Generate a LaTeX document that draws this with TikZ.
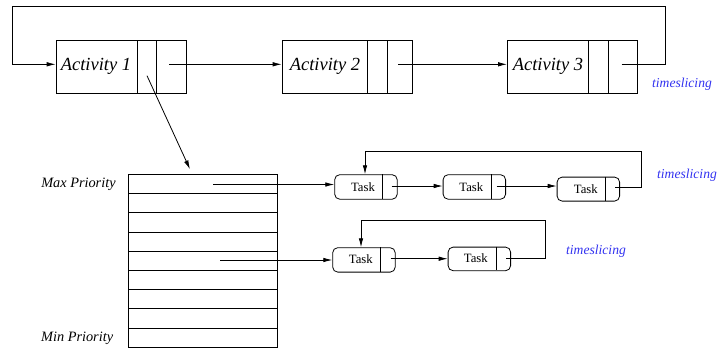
\documentclass[tikz,border=0pt]{standalone}
\usepackage{fontspec}
\setmainfont{Liberation Serif}
\usetikzlibrary{arrows.meta}
\definecolor{tsblue}{RGB}{50,50,240}
\begin{document}
\begin{tikzpicture}[x=1pt,y=-1pt,line width=0.8pt,
  >={Latex[length=9pt,width=4.5pt]},
  actbox/.style={draw,inner sep=0pt,minimum width=130pt,minimum height=52.7pt,anchor=north west},
  acttext/.style={font=\fontsize{18.5}{20}\selectfont\itshape,inner sep=0pt},
  taskbox/.style={draw,rounded corners=5pt,inner sep=0pt,minimum width=62.5pt,minimum height=24.5pt,anchor=north west},
  tasktext/.style={font=\fontsize{12.7}{14}\selectfont,inner sep=0pt},
  prio/.style={font=\fontsize{14.3}{16}\selectfont\itshape,inner sep=0pt,anchor=east},
  tslabel/.style={font=\fontsize{13.6}{15}\selectfont\itshape,text=tsblue,inner sep=0pt}]
\useasboundingbox (0,0) rectangle (719,349);

% activities
\node[actbox] (a1) at (55.7,40) {};
\node[actbox] (a2) at (281.7,40) {};
\node[actbox,minimum width=129.7pt] (a3) at (507,40) {};
\draw (137.3,40) -- (137.3,92.7) (156.7,40) -- (156.7,92.7);
\draw (367.3,40) -- (367.3,92.7) (387.3,40) -- (387.3,92.7);
\draw (588.7,40) -- (588.7,92.7) (608,40) -- (608,92.7);
\node[acttext] (a1t) at (96,66) {Activity 1};
\node[acttext] (a2t) at (325,66) {Activity 2};
\node[acttext] (a3t) at (548,66) {Activity 3};
\node[tslabel] (ts1) at (682,84) {timeslicing};

\coordinate (a1out) at (169.3,64.3);
\coordinate (a1in) at (55.7,64.3);
\coordinate (a2out) at (398.3,64.3);
\coordinate (a2in) at (281.7,64.3);
\coordinate (a3out) at (621.7,64.3);
\coordinate (a3in) at (507,64.3);
\coordinate (a1q) at (147,75.7);

\draw[->] (a1out) -- (a2in);
\draw[->] (a2out) -- (a3in);
\draw[->] (a3out) -- (665.3,64.3) -- (665.3,6.7) -- (12.7,6.7) -- (12.7,64.3) -- (a1in);

% priority table
\node[draw,inner sep=0pt,minimum width=148.4pt,minimum height=173pt,anchor=north west] (tab) at (128.3,174.3) {};
\foreach \i in {1,...,8} {
  \draw (128.3,174.3+19.222*\i) -- (276.7,174.3+19.222*\i);
}
\coordinate (tabtop) at (190,169.3);
\draw[->] (a1q) -- (tabtop);
\node[prio] (maxp) at (116,184.5) {Max Priority};
\node[prio] (minp) at (113.5,338.5) {Min Priority};

% tasks row 1
\node[taskbox] (t1) at (334.3,174.3) {};
\node[taskbox] (t2) at (442.7,174.3) {};
\node[taskbox,minimum height=24pt] (t3) at (556.7,176.7) {};
\draw (382.3,174.3) -- (382.3,199);
\draw (491,174.3) -- (491,199);
\draw (605,176.7) -- (605,200.7);
\node[tasktext] (t1t) at (363,187) {Task};
\node[tasktext] (t2t) at (471.3,187) {Task};
\node[tasktext] (t3t) at (585.8,189) {Task};
\node[tslabel] (ts2) at (687,175) {timeslicing};

\coordinate (r1) at (213.3,184.5);
\coordinate (t1in) at (334.3,184.5);
\coordinate (t1out) at (391.7,186);
\coordinate (t2in) at (442.7,186);
\coordinate (t2out) at (496.7,186);
\coordinate (t3in) at (556.7,186);
\coordinate (t3out) at (615,187.3);
\draw[->] (r1) -- (t1in);
\draw[->] (t1out) -- (t2in);
\draw[->] (t2out) -- (t3in);
\draw[->] (t3out) -- (641.7,187.3) -- (641.7,151.3) -- (365,151.3) -- (t1.north -| 365,0);

% tasks row 2
\node[taskbox,minimum height=24.4pt] (t4) at (332.3,247.3) {};
\node[taskbox,minimum height=23.6pt] (t5) at (447.7,246.7) {};
\draw (380.3,247.3) -- (380.3,271.7);
\draw (496,246.7) -- (496,270.3);
\node[tasktext] (t4t) at (360.8,259.5) {Task};
\node[tasktext] (t5t) at (475.8,258.5) {Task};
\node[tslabel] (ts3) at (596,251.7) {timeslicing};

\coordinate (r5) at (220,260);
\coordinate (t4in) at (332.3,260);
\coordinate (t4out) at (390.7,258.7);
\coordinate (t5in) at (447.7,258.7);
\coordinate (t5out) at (506,258.3);
\draw[->] (r5) -- (t4in);
\draw[->] (t4out) -- (t5in);
\draw[->] (t5out) -- (545.7,258.3) -- (545.7,220) -- (361,220) -- (t4.north -| 361,0);
\end{tikzpicture}
\end{document}
